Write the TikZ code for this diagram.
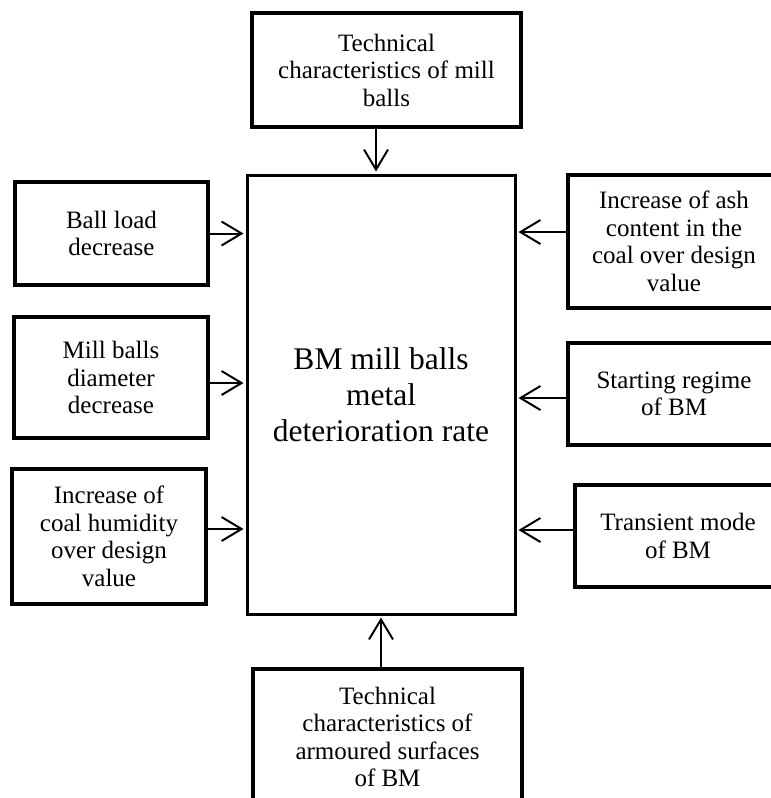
\documentclass[tikz,border=0pt]{standalone}
\usepackage{fontspec}
\setmainfont{Liberation Serif}
\usetikzlibrary{arrows.meta}
\begin{document}
\begin{tikzpicture}[x=1pt, y=-1pt, ->, >={Straight Barb[length=20pt, width=24pt]},
    line width=2pt, shorten >=2pt,
    factor/.style={draw, line width=3.2pt, align=center, inner sep=0pt,
        font=\fontsize{25}{27.5}\selectfont},
    main node/.style={draw, line width=3pt, align=center, inner sep=0pt,
        font=\fontsize{31.5}{36}\selectfont}]

    \useasboundingbox (0,0) rectangle (771,798);

    \node[main node, minimum width=268pt, minimum height=439pt] (rate) at (381,394.5)
        {BM mill balls\\metal\\deterioration rate};

    \node[factor, minimum width=269pt, minimum height=114pt] (balls) at (386.5,70)
        {Technical\\characteristics of mill\\balls};
    \node[factor, minimum width=269pt, minimum height=136pt] (armour) at (387.5,737)
        {Technical\\characteristics of\\armoured surfaces\\of BM};

    % Factors on the left
    \node[factor, minimum width=193pt, minimum height=103pt] (load) at (111.5,233.5)
        {Ball load\\decrease};
    \node[factor, minimum width=194pt, minimum height=121pt] (diam) at (111,377.5)
        {Mill balls\\diameter\\decrease};
    \node[factor, minimum width=194pt, minimum height=135pt] (humid) at (109,536.5)
        {Increase of\\coal humidity\\over design\\value};

    % Factors on the right
    \node[factor, minimum width=212pt, minimum height=133pt] (ash) at (674,241.5)
        {Increase of ash\\content in the\\coal over design\\value};
    \node[factor, minimum width=212pt, minimum height=102pt] (start) at (674,394)
        {Starting regime\\of BM};
    \node[factor, minimum width=206pt, minimum height=102pt] (trans) at (678,536)
        {Transient mode\\of BM};

    % Top and bottom inputs
    \draw ([xshift=-10.5pt]balls.south) -- ([xshift=-10.5pt]balls.south |- rate.north);
    \draw ([xshift=-6.5pt]armour.north) -- ([xshift=-6.5pt]armour.north |- rate.south);

    % Left inputs
    \draw (load.east) -- (load.east -| rate.west);
    \draw ([yshift=-5.5pt]diam.east) -- ([yshift=-5.5pt]diam.east -| rate.west);
    \draw ([yshift=7.5pt]humid.east) -- ([yshift=7.5pt]humid.east -| rate.west);

    % Right inputs
    \draw ([yshift=9.5pt]ash.west) -- ([yshift=9.5pt]ash.west -| rate.east);
    \draw ([yshift=-4pt]start.west) -- ([yshift=-4pt]start.west -| rate.east);
    \draw ([yshift=6pt]trans.west) -- ([yshift=6pt]trans.west -| rate.east);

\end{tikzpicture}
\end{document}
